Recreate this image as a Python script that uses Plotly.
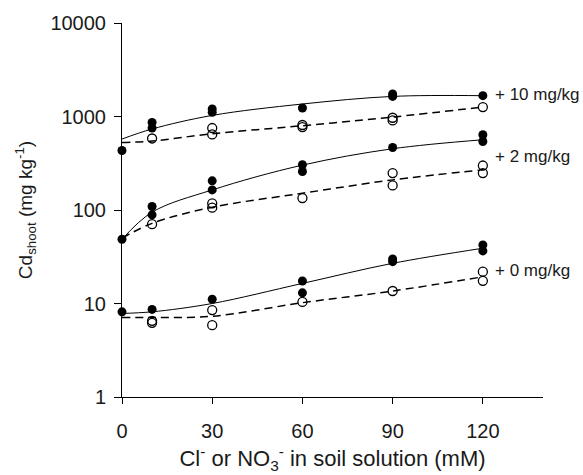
import math
import plotly.graph_objects as go

# x positions of fitted curves
x_fit = [0, 10, 30, 60, 90, 120]

# +10 mg/kg
cd10_filled_x = [0, 10, 10, 30, 30, 60, 90, 90, 120]
cd10_filled_y = [433, 865, 753, 1203, 1107, 1233, 1741, 1641, 1670]
cd10_open_x = [10, 30, 30, 60, 60, 90, 90, 120]
cd10_open_y = [582, 753, 643, 811, 771, 970, 908, 1262]
cd10_solid_fit = [574, 735, 1027, 1360, 1640, 1670]
cd10_dash_fit = [527, 546, 654, 797, 987, 1262]

# +2 mg/kg
cd2_filled_x = [0, 10, 10, 30, 30, 60, 60, 90, 120, 120]
cd2_filled_y = [48.6, 109, 88.7, 205, 164, 305, 258, 466, 638, 541]
cd2_open_x = [10, 30, 30, 60, 90, 90, 120, 120]
cd2_open_y = [70.5, 118, 106, 134, 248, 183, 299, 248]
cd2_solid_fit = [48.6, 94.7, 164, 302, 452, 564]
cd2_dash_fit = [50, 72, 107, 151, 210, 269]

# +0 mg/kg
cd0_filled_x = [0, 10, 30, 60, 60, 90, 90, 120, 120]
cd0_filled_y = [8.15, 8.64, 11.1, 17.4, 13.0, 29.9, 28.0, 42.3, 36.5]
cd0_open_x = [10, 10, 30, 30, 60, 90, 120, 120]
cd0_open_y = [6.53, 6.21, 8.5, 5.87, 10.4, 13.6, 21.9, 17.5]
cd0_solid_fit = [7.83, 8.15, 10.0, 16.4, 26.9, 39.0]
cd0_dash_fit = [7.1, 7.1, 7.3, 10.2, 13.6, 19.3]

labels = ["+ 10 mg/kg", "+ 2 mg/kg", "+ 0 mg/kg"]
label_y = [1715, 371, 22.8]

x_ticks = [0, 30, 60, 90, 120]
y_ticks = [1, 10, 100, 1000, 10000]

fig = go.Figure()

series = [
    (cd10_filled_x, cd10_filled_y, cd10_open_x, cd10_open_y, cd10_solid_fit, cd10_dash_fit),
    (cd2_filled_x, cd2_filled_y, cd2_open_x, cd2_open_y, cd2_solid_fit, cd2_dash_fit),
    (cd0_filled_x, cd0_filled_y, cd0_open_x, cd0_open_y, cd0_solid_fit, cd0_dash_fit),
]

for fx, fy, ox, oy, sfit, dfit in series:
    fig.add_trace(go.Scatter(x=x_fit, y=dfit, mode="lines", line=dict(color="black", width=1.5, dash="8px,5px", shape="spline"), showlegend=False, cliponaxis=False))
    fig.add_trace(go.Scatter(x=x_fit, y=sfit, mode="lines", line=dict(color="black", width=1, shape="spline"), showlegend=False, cliponaxis=False))
    fig.add_trace(go.Scatter(x=ox, y=oy, mode="markers", marker=dict(symbol="circle-open", size=9, color="black", line=dict(width=1.3)), showlegend=False, cliponaxis=False))
    fig.add_trace(go.Scatter(x=fx, y=fy, mode="markers", marker=dict(symbol="circle", size=9, color="black"), showlegend=False, cliponaxis=False))

for lab, ly in zip(labels, label_y):
    fig.add_annotation(x=120, y=math.log10(ly), yref="y", xref="x", text=lab, showarrow=False,
                       xanchor="left", xshift=10, font=dict(size=17, color="#1a1a1a"))

fig.update_layout(
    width=583, height=475,
    margin=dict(l=122, r=40, t=23, b=78),
    paper_bgcolor="white", plot_bgcolor="white",
    font=dict(family="Liberation Sans, Arial, sans-serif", size=20, color="#1a1a1a"),
    xaxis=dict(range=[0, 140], tickvals=x_ticks, ticks="outside", ticklen=6, tickcolor="black",
               showline=True, linecolor="black", linewidth=1, showgrid=False, zeroline=False,
               ticklabelstandoff=10, automargin=False,
               title=dict(text="Cl<sup>-</sup> or NO<sub>3</sub><sup>-</sup> in soil solution (mM)", font=dict(size=22), standoff=9)),
    yaxis=dict(type="log", range=[0, 4], tickvals=y_ticks, ticktext=[str(v) for v in y_ticks],
               ticks="outside", ticklen=7, tickcolor="black", ticklabelstandoff=4, automargin=False,
               showline=True, linecolor="black", linewidth=1, showgrid=False, zeroline=False,
               title=dict(text="Cd<sub>shoot</sub> (mg kg<sup>-1</sup>)", font=dict(size=19), standoff=12)),
)

fig.write_html("out.html", config={"displayModeBar": False},
               post_script="document.body.style.margin='0px';")
